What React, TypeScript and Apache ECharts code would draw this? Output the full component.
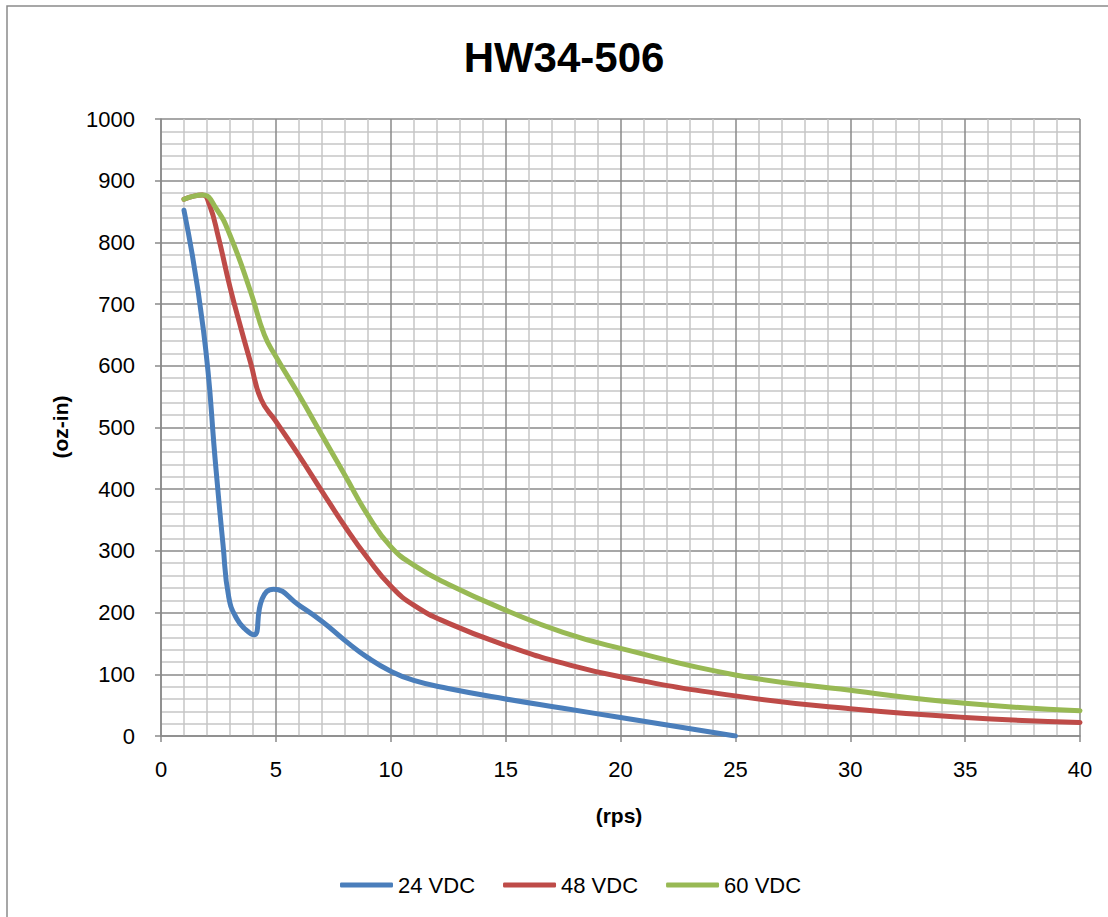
import React, { useEffect, useRef } from "react";
import * as echarts from "echarts";

const chartTitle = "HW34-506";
const xAxisName = "(rps)";
const yAxisName = "(oz-in)";
const seriesNames = ["24 VDC", "48 VDC", "60 VDC"];

const x24 = [1, 1.85, 2.4, 2.7, 2.95, 3.3, 3.7, 4.05, 4.4, 4.9, 6, 7, 8, 9, 10, 11, 12.5, 15, 17.5, 20, 25];
const y24 = [852, 657, 430, 310, 225, 190, 172, 164, 222, 238, 212, 186, 155, 127, 105, 90, 77, 60, 45, 30, 0];

const x48 = [1, 1.8, 2.1, 2.5, 3.0, 3.5, 3.9, 4.35, 5, 6, 7, 8, 9, 10, 11, 12.5, 15, 17.5, 20, 25, 30, 35, 40];
const y48 = [870, 877, 862, 808, 728, 658, 605, 546, 510, 455, 397, 340, 288, 243, 212, 183, 147, 118, 96, 65, 44, 30, 22];

const x60 = [1, 1.8, 2.4, 3.0, 3.9, 4.5, 5, 6, 7, 8, 9, 10, 11, 12.5, 15, 17.5, 20, 25, 30, 35, 40];
const y60 = [870, 877, 855, 812, 720, 650, 615, 553, 488, 423, 358, 307, 277, 246, 204, 168, 142, 99, 74, 53, 41];

const colors = ["#4a7ebb", "#be4b48", "#98b954"];

const pairs = (xs: number[], ys: number[]) => xs.map((x, i) => [x, ys[i]]);

const FONT = "'Liberation Sans', Arial, sans-serif";

export default function App() {
  const ref = useRef<HTMLDivElement>(null);

  useEffect(() => {
    if (!ref.current) return;
    const chart = echarts.init(ref.current, undefined, { renderer: "svg" });
    const minorLine = { show: true, lineStyle: { color: "#c6c6c6", width: 1.5 } };
    const majorLine = { show: true, lineStyle: { color: "#8a8a8a", width: 1.5 } };
    const axisLine = { show: true, lineStyle: { color: "#8a8a8a", width: 1.5 } };
    const axisTick = { show: true, inside: false, length: 6, lineStyle: { color: "#8a8a8a", width: 1.5 } };
    const labelStyle = { color: "#000", fontSize: 22, fontFamily: FONT, formatter: (v: number) => String(v) };

    const datasets = [pairs(x24, y24), pairs(x48, y48), pairs(x60, y60)];

    chart.setOption({
      animation: false,
      backgroundColor: "#ffffff",
      textStyle: { fontFamily: FONT },
      grid: { left: 161, right: 28, top: 119, bottom: 181, containLabel: false },
      xAxis: {
        type: "value",
        min: 0,
        max: 40,
        interval: 5,
        axisLine,
        axisTick,
        minorTick: { show: false, splitNumber: 5 },
        splitLine: majorLine,
        minorSplitLine: minorLine,
        axisLabel: { ...labelStyle, margin: 22 },
      },
      yAxis: {
        type: "value",
        min: 0,
        max: 1000,
        interval: 100,
        axisLine,
        axisTick,
        minorTick: { show: false, splitNumber: 5 },
        splitLine: majorLine,
        minorSplitLine: minorLine,
        axisLabel: { ...labelStyle, margin: 26 },
      },
      legend: {
        left: 335,
        top: 869,
        icon: "roundRect",
        itemWidth: 53,
        itemHeight: 5,
        itemGap: 28,
        textStyle: { color: "#000", fontSize: 22, fontFamily: FONT },
        data: seriesNames,
      },
      series: seriesNames.map((name, i) => ({
        name,
        type: "line",
        data: datasets[i],
        smooth: 0.5,
        symbol: "none",
        showSymbol: false,
        color: colors[i],
        lineStyle: { width: 5, color: colors[i], cap: "round", join: "round" },
        z: 3 + i,
      })),
      graphic: [
        {
          type: "polyline",
          shape: { points: [[7, 917], [7, 6], [1108, 6]] },
          style: { stroke: "#8a8a8a", lineWidth: 1.5, fill: "none" },
          silent: true,
        },
        {
          type: "text",
          x: 564,
          y: 57,
          style: {
            text: chartTitle,
            fontSize: 42,
            fontWeight: "bold",
            fontFamily: FONT,
            fill: "#000",
            align: "center",
            verticalAlign: "middle",
          },
        },
        {
          type: "text",
          x: 619,
          y: 815,
          style: {
            text: xAxisName,
            fontSize: 21,
            fontWeight: "bold",
            fontFamily: FONT,
            fill: "#000",
            align: "center",
            verticalAlign: "middle",
          },
        },
        {
          type: "text",
          x: 60,
          y: 427,
          rotation: Math.PI / 2,
          style: {
            text: yAxisName,
            fontSize: 21,
            fontWeight: "bold",
            fontFamily: FONT,
            fill: "#000",
            align: "center",
            verticalAlign: "middle",
          },
        },
      ],
    });
    return () => chart.dispose();
  }, []);

  return (
    <div
      ref={ref}
      style={{ position: "absolute", left: 0, top: 0, width: 1108, height: 917 }}
    />
  );
}
